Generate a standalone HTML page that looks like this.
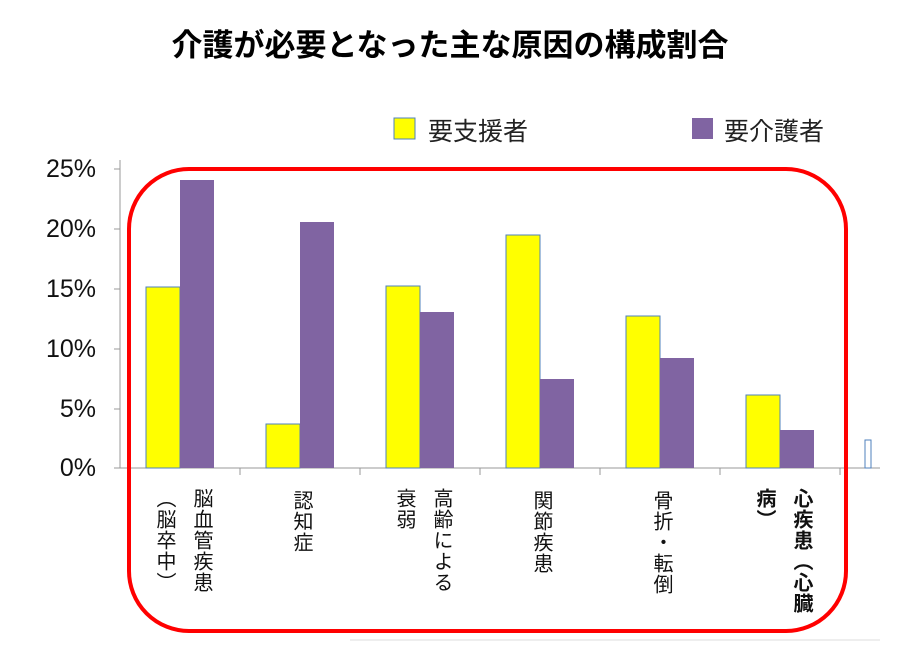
<!DOCTYPE html>
<html><head><meta charset="utf-8"><style>
body{margin:0;background:#fff;width:900px;height:661px;overflow:hidden;position:relative;font-family:"Liberation Sans","Noto Sans CJK JP",sans-serif}
.t{position:absolute;left:0;width:900px;top:20px;text-align:center;font-size:31px;font-weight:bold;color:#000}
.v{position:absolute;writing-mode:vertical-rl;font-size:20px;line-height:37px;color:#111;top:488px;letter-spacing:1px}
.y{position:absolute;left:20px;font-size:25px;color:#111;width:76px;text-align:right}
</style></head><body>
<div class="t">介護が必要となった主な原因の構成割合</div>
<svg width="900" height="661" style="position:absolute;left:0;top:0">
<rect x="394" y="118" width="21" height="21" fill="#ffff00" stroke="#4f81bd" stroke-width="1"/>
<text x="428" y="140" font-size="25" font-family="Liberation Sans,Noto Sans CJK JP,sans-serif" fill="#222">要支援者</text>
<rect x="692" y="118" width="21" height="21" fill="#8064a2"/>
<text x="724" y="140" font-size="25" font-family="Liberation Sans,Noto Sans CJK JP,sans-serif" fill="#222">要介護者</text>
<line x1="120" y1="468" x2="880" y2="468" stroke="#999"/>
<line x1="120" y1="160" x2="120" y2="468" stroke="#999"/>
<g stroke="#999"><line x1="114" y1="169" x2="120" y2="169"/><line x1="114" y1="229" x2="120" y2="229"/><line x1="114" y1="289" x2="120" y2="289"/><line x1="114" y1="349" x2="120" y2="349"/><line x1="114" y1="409" x2="120" y2="409"/><line x1="114" y1="468" x2="120" y2="468"/>
<line x1="240" y1="468" x2="240" y2="475"/><line x1="360" y1="468" x2="360" y2="475"/><line x1="480" y1="468" x2="480" y2="475"/><line x1="600" y1="468" x2="600" y2="475"/><line x1="720" y1="468" x2="720" y2="475"/><line x1="840" y1="468" x2="840" y2="475"/></g>
<g stroke="#4f81bd" stroke-width="1" fill="#ffff00">
<rect x="146" y="287" width="34" height="181"/>
<rect x="266" y="424" width="34" height="44"/>
<rect x="386" y="286" width="34" height="182"/>
<rect x="506" y="235" width="34" height="233"/>
<rect x="626" y="316" width="34" height="152"/>
<rect x="746" y="395" width="34" height="73"/>
</g>
<g fill="#8064a2">
<rect x="180" y="180" width="34" height="288"/>
<rect x="300" y="222" width="34" height="246"/>
<rect x="420" y="312" width="34" height="156"/>
<rect x="540" y="379" width="34" height="89"/>
<rect x="660" y="358" width="34" height="110"/>
<rect x="780" y="430" width="34" height="38"/>
</g>
<rect x="865" y="440" width="6" height="28" fill="#fff" stroke="#4f81bd"/>
<rect x="129" y="169" width="717" height="462" rx="60" ry="60" fill="none" stroke="#f00" stroke-width="4"/>
<line x1="350" y1="640" x2="880" y2="640" stroke="#ddd"/>
</svg>
<div class="y" style="top:155px">25%</div>
<div class="y" style="top:215px">20%</div>
<div class="y" style="top:275px">15%</div>
<div class="y" style="top:335px">10%</div>
<div class="y" style="top:395px">5%</div>
<div class="y" style="top:454px">0%</div>
<div class="v" style="left:145px">脳血管疾患<br>︵脳卒中︶</div>
<div class="v" style="left:282px;top:490px">認知症</div>
<div class="v" style="left:385px">高齢による<br>衰弱</div>
<div class="v" style="left:522px;top:490px">関節疾患</div>
<div class="v" style="left:642px;top:490px">骨折・転倒</div>
<div class="v" style="left:745px;font-weight:bold">心疾患︵心臓<br>病︶</div>
</body></html>
